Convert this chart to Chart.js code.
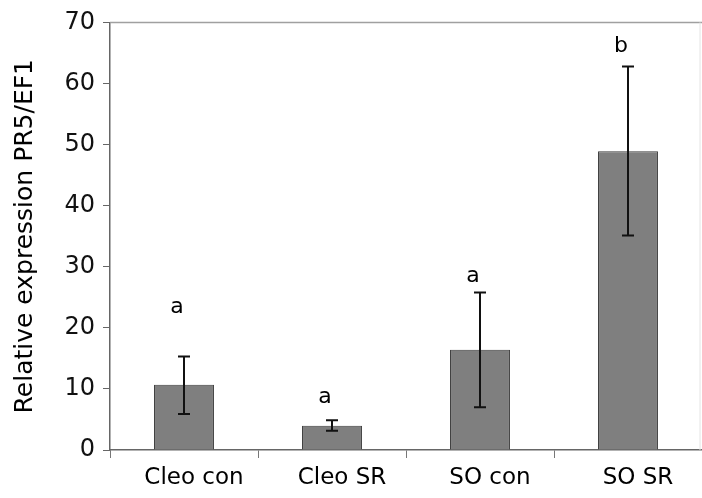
<!DOCTYPE html>
<html>
<head>
<meta charset="utf-8">
<script src="https://cdn.jsdelivr.net/npm/chart.js@4/dist/chart.umd.min.js"></script>
<style>
  html, body { margin: 0; padding: 0; background: #fff; }
  #wrap { width: 702px; height: 498px; }
</style>
</head>
<body>
<div id="wrap"><canvas id="c" width="702" height="498"></canvas></div>
<script>
// Relative PR5/EF1 expression per treatment group
const categories = ['Cleo con', 'Cleo SR', 'SO con', 'SO SR'];
const means      = [10.7, 3.95, 16.4, 48.9];
const errUpper   = [15.3, 4.85, 25.8, 62.8];
const errLower   = [5.9, 3.15, 7.0, 35.1];
const groupLetters = ['a', 'a', 'a', 'b'];
const letterValues = [23.3, 8.6, 28.5, 66.1];
const yTicks = [0, 10, 20, 30, 40, 50, 60, 70];

const FONT = "'DejaVu Sans', sans-serif";

const annotate = {
  id: 'annotate',
  afterDatasetsDraw(chart) {
    const { ctx, chartArea, scales } = chart;
    const x = scales.x, y = scales.y;
    ctx.save();
    // frame lines on top and right
    ctx.strokeStyle = '#a0a0a0';
    ctx.lineWidth = 1.5;
    ctx.beginPath();
    ctx.moveTo(chartArea.left, chartArea.top);
    ctx.lineTo(chartArea.right, chartArea.top);
    ctx.stroke();
    ctx.strokeStyle = '#e4e4e4';
    ctx.lineWidth = 1;
    ctx.beginPath();
    ctx.moveTo(chartArea.right - 2, chartArea.top);
    ctx.lineTo(chartArea.right - 2, chartArea.bottom);
    ctx.stroke();

    // error bars
    ctx.strokeStyle = '#111';
    ctx.lineWidth = 2;
    categories.forEach((c, i) => {
      const cx = Math.round(x.getPixelForValue(i));
      const yt = y.getPixelForValue(errUpper[i]);
      const yb = y.getPixelForValue(errLower[i]);
      ctx.beginPath();
      ctx.moveTo(cx, yt); ctx.lineTo(cx, yb);
      ctx.moveTo(cx - 6, yt); ctx.lineTo(cx + 6, yt);
      ctx.moveTo(cx - 6, yb); ctx.lineTo(cx + 6, yb);
      ctx.stroke();
    });

    // significance letters
    ctx.fillStyle = '#000';
    ctx.font = '22px ' + FONT;
    ctx.textAlign = 'center';
    ctx.textBaseline = 'middle';
    groupLetters.forEach((t, i) => {
      ctx.fillText(t, x.getPixelForValue(i) - 7, y.getPixelForValue(letterValues[i]));
    });
    ctx.restore();
  }
};

new Chart(document.getElementById('c'), {
  type: 'bar',
  data: {
    labels: categories,
    datasets: [{
      data: means,
      backgroundColor: '#7f7f7f',
      borderColor: '#3c3c3c',
      borderWidth: 1,
      categoryPercentage: 1,
      barPercentage: 0.405
    }]
  },
  options: {
    responsive: false,
    animation: false,
    devicePixelRatio: 1,
    layout: { padding: { top: 19, right: 0, left: 0, bottom: 0 } },
    plugins: { legend: { display: false }, tooltip: { enabled: false } },
    scales: {
      x: {
        offset: true,
        grid: { offset: true, drawOnChartArea: false, tickLength: 8, color: '#777', lineWidth: 1 },
        border: { color: '#666', width: 1.5 },
        ticks: { font: { family: FONT, size: 23 }, color: '#000', padding: 6, labelOffset: 10 },
        afterFit(s) { s.height = 48; }
      },
      y: {
        min: 0, max: 70,
        afterBuildTicks(s) { s.ticks = yTicks.map(v => ({ value: v })); },
        grid: { drawOnChartArea: false, tickLength: 7, color: '#666', lineWidth: 1 },
        border: { color: '#666', width: 1.5 },
        ticks: { font: { family: FONT, size: 24 }, color: '#111', padding: 8 },
        title: { display: true, text: 'Relative expression PR5/EF1', font: { family: FONT, size: 25 }, color: '#000', padding: { top: 10, bottom: 0 } },
        afterFit(s) { s.width = 110; }
      }
    }
  },
  plugins: [annotate]
});
</script>
</body>
</html>
